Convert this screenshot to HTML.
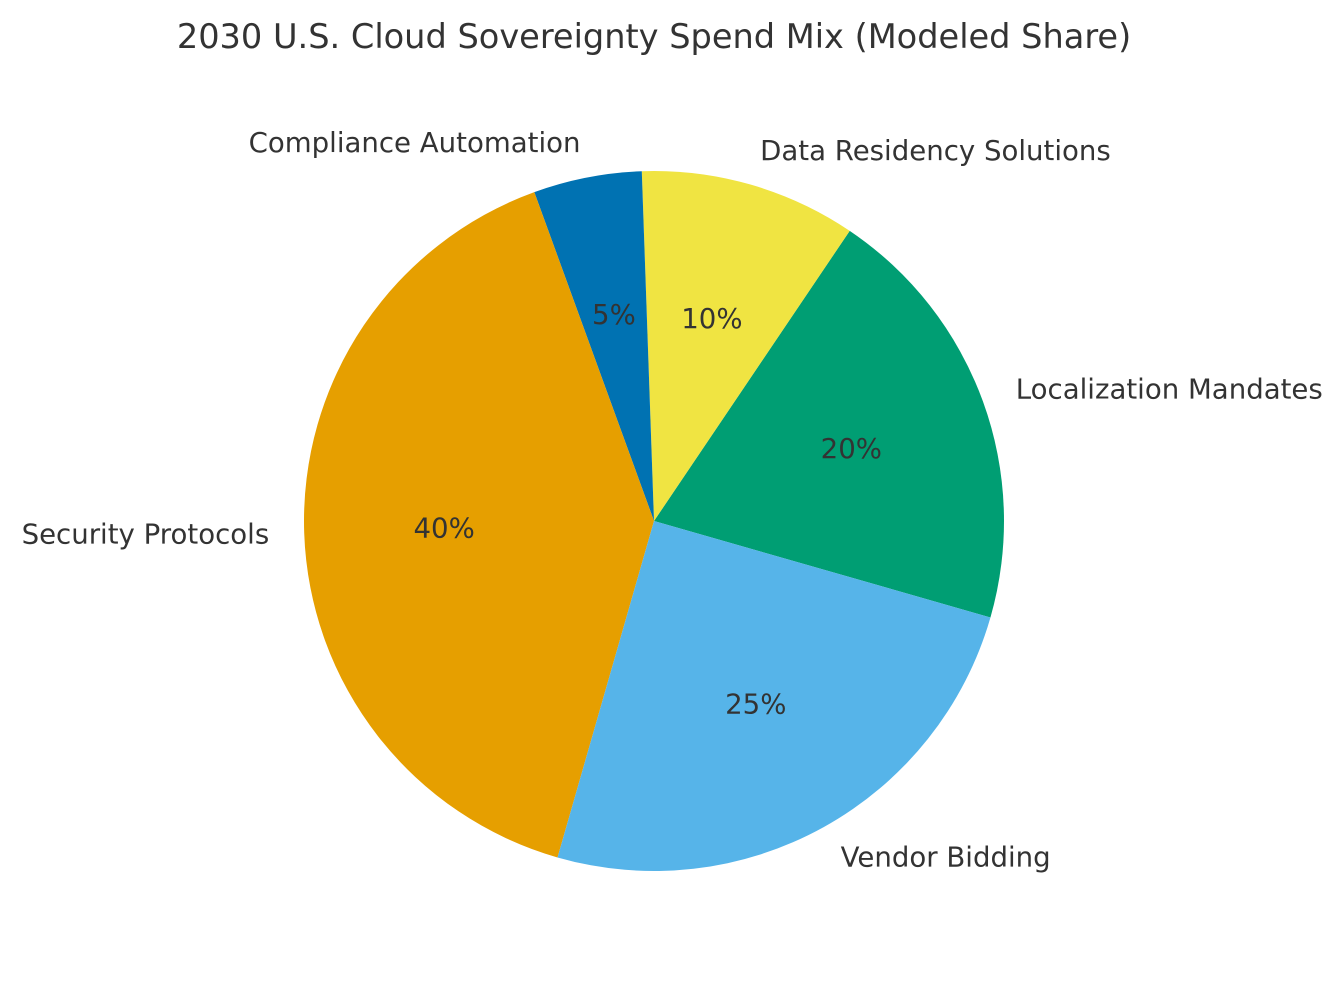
<!DOCTYPE html>
<html><head><meta charset="utf-8"><style>
body{margin:0;background:#fff;}
svg text{font-family:"DejaVu Sans","Liberation Sans",sans-serif;fill:#333;}
</style></head><body>
<svg id="chart" width="1344" height="981">
<text x="654" y="48" text-anchor="middle" font-size="33.6">2030 U.S. Cloud Sovereignty Spend Mix (Modeled Share)</text>
</svg>
<script>
const categories=["Localization Mandates","Data Residency Solutions","Compliance Automation","Security Protocols","Vendor Bidding"];
const values=[20,10,5,40,25];
const colors=["#009E73","#F0E442","#0072B2","#E69F00","#56B4E9"];
const startAngle=-16;
const cx=654,cy=521,r=350;
const svg=document.getElementById('chart');
const NS="http://www.w3.org/2000/svg";
const total=values.reduce((a,b)=>a+b,0);
function pt(deg,rad){const a=deg*Math.PI/180;return [cx+rad*Math.cos(a),cy-rad*Math.sin(a)];}
let ang=startAngle;
values.forEach((v,i)=>{
  const sweep=v/total*360;
  const a0=ang,a1=ang+sweep;
  const [x0,y0]=pt(a0,r),[x1,y1]=pt(a1,r);
  const p=document.createElementNS(NS,'path');
  p.setAttribute('d',`M${cx},${cy} L${x0},${y0} A${r},${r} 0 ${sweep>180?1:0} 0 ${x1},${y1} Z`);
  p.setAttribute('fill',colors[i]);
  
  
  svg.appendChild(p);
  const mid=(a0+a1)/2;
  const [lx,ly]=pt(mid,r*1.1);
  const t=document.createElementNS(NS,'text');
  t.setAttribute('x',lx);t.setAttribute('y',ly+9);
  t.setAttribute('font-size','27.6');
  t.setAttribute('text-anchor',Math.cos(mid*Math.PI/180)>=0?'start':'end');
  t.textContent=categories[i];
  
  
  svg.appendChild(t);
  const [px,py]=pt(mid,r*0.6);
  const q=document.createElementNS(NS,'text');
  q.setAttribute('x',px);q.setAttribute('y',py+9);
  q.setAttribute('font-size','27.6');
  q.setAttribute('text-anchor','middle');
  q.textContent=Math.round(v/total*100)+'%';
  
  
  svg.appendChild(q);
  ang=a1;
});
</script>
</body></html>
